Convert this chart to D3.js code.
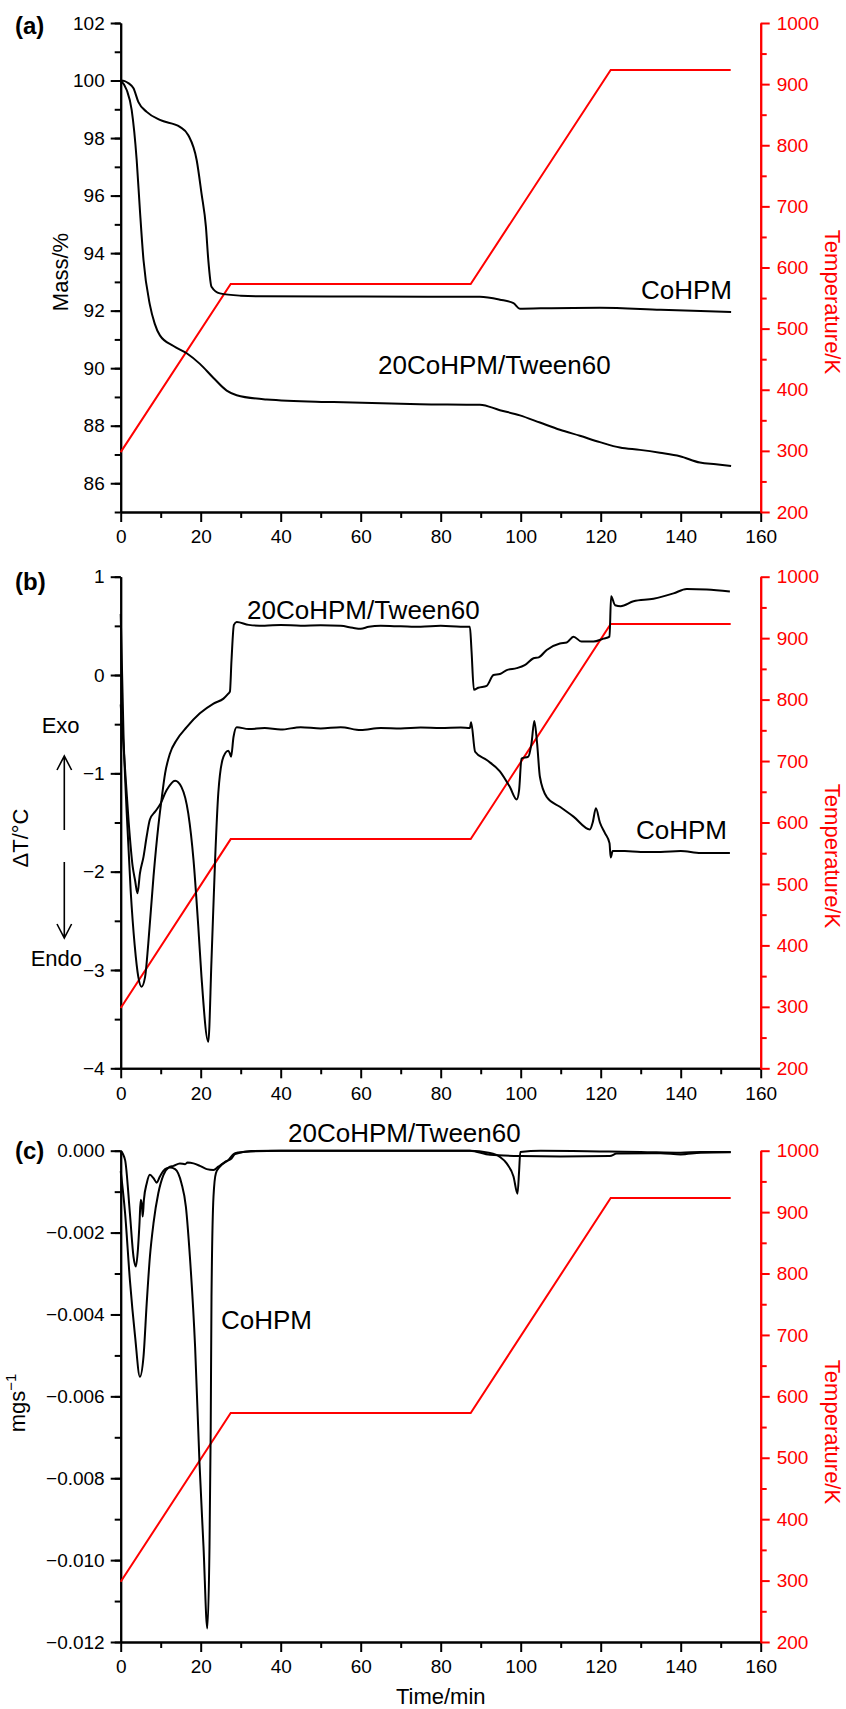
<!DOCTYPE html>
<html>
<head>
<meta charset="utf-8">
<script src="https://cdn.jsdelivr.net/npm/d3@7"></script>
<style>
  body { margin: 0; background: #fff; }
  svg { display: block; font-family: "Liberation Sans", Arial, Helvetica, sans-serif; }
</style>
</head>
<body>
<svg id="fig" width="846" height="1709"></svg>
<script>
// temperature program (min, K) shared by the three panels
const tempProgram = [[0, 298], [27.5, 573], [87.5, 573], [122.5, 923], [152.5, 923]];

// (a) TG, mass %
const tgCoHPM = [[0,100],[1,99.98],[2,99.9],[3.2,99.73],[4.4,99.26],[6.5,98.91],[9.8,98.63],[14.8,98.39],
  [16.9,98.1],[19,97.23],[20.2,96.08],[21.3,94.92],[21.9,93.76],[22.7,92.83],[24.8,92.6],[30,92.52],
  [34.8,92.5],[60,92.49],[89.8,92.48],[94.8,92.38],[98.2,92.26],[99.8,92.07],[105,92.08],[119.8,92.1],
  [135,92.03],[152.6,91.95]];
const tgTween = [[0,100],[1.5,99.67],[2.75,98.97],[4,97.23],[4.8,95.5],[5.7,93.76],[7.3,92.2],[8.5,91.55],
  [9.8,91.14],[13.2,90.77],[16.5,90.52],[19.8,90.15],[23.2,89.66],[26.5,89.22],[29,89.06],[36.5,88.91],
  [53.2,88.82],[74.8,88.75],[89.8,88.73],[94.8,88.54],[99.8,88.36],[104.8,88.11],[109.8,87.86],
  [114.8,87.65],[119.8,87.43],[124.8,87.24],[129.8,87.16],[134.8,87.06],[139.8,86.94],[144.8,86.72],
  [148.8,86.66],[152.6,86.6]];

// (b) DTA, delta T
const dtaCoHPM = [[0,-0.3],[1,-0.9],[2,-1.5],[3,-1.95],[3.6,-2.09],[4.2,-2.22],[4.8,-2.02],[5.7,-1.85],
  [6.5,-1.64],[7.3,-1.47],[8.6,-1.39],[9.8,-1.32],[11.5,-1.17],[13.6,-1.075],[15.2,-1.14],[16.9,-1.41],
  [18.2,-1.88],[19.4,-2.56],[20.2,-3.07],[21.9,-3.73],[22.7,-2.9],[23.6,-1.88],[24.4,-1.2],[25.7,-0.83],
  [26.9,-0.77],[27.3,-0.8],[27.6,-0.83],[28.2,-0.63],[29,-0.53],[32,-0.55],[36,-0.54],[40,-0.555],
  [45,-0.53],[50,-0.545],[55,-0.53],[60,-0.56],[65,-0.54],[70,-0.545],[75,-0.535],[80,-0.54],[85,-0.535],
  [87.3,-0.54],[87.6,-0.48],[88.6,-0.78],[91.5,-0.865],[94.8,-0.98],[97.3,-1.14],[99,-1.265],[99.6,-1.17],
  [100.2,-0.85],[101.9,-0.83],[102.7,-0.695],[103.4,-0.468],[104.1,-0.695],[104.8,-1.035],[106.5,-1.24],
  [109.8,-1.34],[113.2,-1.44],[117.3,-1.57],[118,-1.5],[118.8,-1.355],[119.8,-1.5],[121.1,-1.61],
  [122.2,-1.71],[122.5,-1.855],[123,-1.79],[126,-1.79],[130,-1.8],[135,-1.8],[140,-1.79],[145,-1.81],
  [152.3,-1.81]];
const dtaTween = [[0,0.62],[0.7,-0.6],[1.5,-1.4],[2.5,-2.2],[3.5,-2.75],[4.4,-3.07],[5.2,-3.17],[6.1,-3.07],
  [6.9,-2.73],[8.2,-2.05],[9.4,-1.54],[10.2,-1.27],[11.1,-1.0],[12.3,-0.8],[14,-0.66],[16.5,-0.53],
  [19.8,-0.39],[23.2,-0.29],[25.7,-0.24],[26.9,-0.19],[27.3,-0.17],[27.7,0.15],[28.3,0.51],[29,0.54],
  [32,0.51],[36,0.5],[40,0.51],[45,0.5],[50,0.505],[55,0.5],[58,0.48],[60,0.47],[62,0.49],[65,0.5],
  [70,0.495],[75,0.49],[80,0.5],[85,0.49],[87.3,0.49],[87.7,0.25],[88.3,-0.15],[89.4,-0.13],[91.5,-0.11],
  [93.2,0.0],[94.8,0.01],[96.5,0.05],[99,0.07],[101,0.1],[103.2,0.17],[104.5,0.18],[106.5,0.255],
  [109.8,0.32],[111.5,0.33],[113.2,0.39],[115.2,0.34],[118.2,0.34],[120.7,0.37],[122.2,0.39],[122.6,0.8],
  [123.6,0.71],[125,0.7],[128.2,0.75],[133.2,0.775],[138.2,0.83],[141.5,0.876],[146.5,0.87],[152.3,0.85]];

// (c) DTG, mg/s
const dtgCoHPM = [[0,0],[1.1,-0.00023],[2.3,-0.00153],[3.2,-0.00259],[3.8,-0.00283],[4.3,-0.00242],
  [4.7,-0.00177],[5.0,-0.0012],[5.3,-0.00133],[5.5,-0.00161],[5.8,-0.0012],[6.5,-0.0008],[7.3,-0.00059],
  [8.2,-0.00067],[9,-0.00078],[9.8,-0.00063],[11.1,-0.00045],[12.3,-0.00041],[13.6,-0.00045],
  [15.2,-0.0008],[16.3,-0.00137],[17.3,-0.00259],[18.6,-0.00479],[19.7,-0.00763],[20.7,-0.00967],
  [21.65,-0.01167],[22.2,-0.00967],[22.5,-0.00682],[22.7,-0.00357],[23.2,-0.00112],[23.8,-0.00055],
  [24.8,-0.00039],[26.9,-0.00023],[28.6,-0.00006],[32.6,-0.00002],[40,0],[87.3,0],[92,-0.00005],
  [94.8,-0.00015],[96.5,-0.00031],[98.2,-0.00063],[99.2,-0.00105],[99.6,-0.0005],[99.9,-0.00003],
  [105,0],[122,-0.00002],[130,-0.00003],[140,-0.00005],[145,-0.00003],[152.5,-0.00003]];
const dtgTween = [[0,-0.0005],[1.1,-0.00153],[2.3,-0.00316],[3.6,-0.00454],[4.8,-0.00552],[5.7,-0.00503],
  [6.5,-0.00373],[7.3,-0.00259],[8.2,-0.00177],[9.4,-0.00104],[10.7,-0.00059],[12,-0.00041],
  [13.2,-0.00037],[14.8,-0.00031],[16.1,-0.00033],[16.7,-0.00029],[18.2,-0.00031],[19.8,-0.00037],
  [21.5,-0.00045],[23.2,-0.00047],[24.4,-0.00039],[26.1,-0.00027],[27.7,-0.00019],[28.6,-0.00008],
  [32.6,-0.00001],[37.6,0],[87.3,0],[92.3,-0.0001],[100,-0.00013],[110,-0.00014],[122.3,-0.00013],
  [124,-0.00007],[135,-0.00006],[140,-0.00009],[145,-0.00005],[152.5,-0.00004]];

const timeTicks = d3.range(0, 161, 20);
const tempTicks = d3.range(200, 1001, 100);

const svg = d3.select("#fig");
const x = d3.scaleLinear().domain([0, 160]).range([120.7, 760.7]);
const RED = "#ff0000";

const panels = [
  { letter: "(a)", letterY: 34, top: 23, bottom: 512, domain: [85, 102], major: d3.range(86, 103, 2),
    minor: d3.range(85, 103, 1), fmt: d3.format("d"), title: "Mass/%", titleX: 68, titleY: 272,
    tempTitleY: 302, series: [tgCoHPM, tgTween],
    labels: [["CoHPM", 641, 299], ["20CoHPM/Tween60", 378, 374]] },
  { letter: "(b)", letterY: 590, top: 576.7, bottom: 1068.3, domain: [-4, 1], major: d3.range(-4, 1.01, 1),
    minor: d3.range(-4, 1.01, 0.5), fmt: d3.format("d"), title: "\u0394T/\u00b0C", titleX: 28, titleY: 838,
    tempTitleY: 856, series: [dtaCoHPM, dtaTween],
    labels: [["20CoHPM/Tween60", 247, 619], ["CoHPM", 636, 839]] },
  { letter: "(c)", letterY: 1159, top: 1150.7, bottom: 1642, domain: [-0.012, 0], major: d3.range(-0.012, 0.0001, 0.002),
    minor: d3.range(-0.012, 0.0001, 0.001), fmt: d3.format(".3f"), title: null, titleX: 25, titleY: 1403,
    tempTitleY: 1432, series: [dtgCoHPM, dtgTween],
    labels: [["20CoHPM/Tween60", 288, 1142], ["CoHPM", 221, 1329]] }
];

function styleAxis(g, color, width) {
  g.select(".domain").attr("stroke", color).attr("stroke-width", width);
  g.selectAll(".tick line").attr("stroke", color).attr("stroke-width", width);
  g.selectAll(".tick text").attr("fill", color).attr("font-size", 19)
    .attr("font-family", "'Liberation Sans', Arial, Helvetica, sans-serif");
}

panels.forEach(p => {
  const y = d3.scaleLinear().domain(p.domain).range([p.bottom, p.top]);
  const yT = d3.scaleLinear().domain([200, 1000]).range([p.bottom, p.top]);
  const g = svg.append("g");

  // minor ticks first, then major axes
  g.append("g").attr("transform", `translate(${x.range()[0]},0)`)
    .call(d3.axisLeft(y).tickValues(p.minor).tickSize(6).tickSizeOuter(0).tickFormat(""))
    .call(a => styleAxis(a, "#000", 2));
  g.append("g").attr("transform", `translate(${x.range()[0]},0)`)
    .call(d3.axisLeft(y).tickValues(p.major).tickSize(10).tickSizeOuter(0).tickPadding(6).tickFormat(p.fmt))
    .call(a => styleAxis(a, "#000", 2));

  g.append("g").attr("transform", `translate(0,${p.bottom})`)
    .call(d3.axisBottom(x).tickValues(d3.range(10, 161, 20)).tickSize(6).tickSizeOuter(0).tickFormat(""))
    .call(a => styleAxis(a, "#000", 2));
  g.append("g").attr("transform", `translate(0,${p.bottom})`)
    .call(d3.axisBottom(x).tickValues(timeTicks).tickSize(10).tickSizeOuter(0).tickPadding(8).tickFormat(d3.format("d")))
    .call(a => styleAxis(a, "#000", 2));

  g.append("g").attr("transform", `translate(${x.range()[1]},0)`)
    .call(d3.axisRight(yT).tickValues(d3.range(250, 1000, 100)).tickSize(6).tickSizeOuter(0).tickFormat(""))
    .call(a => styleAxis(a, RED, 2));
  g.append("g").attr("transform", `translate(${x.range()[1]},0)`)
    .call(d3.axisRight(yT).tickValues(tempTicks).tickSize(9).tickSizeOuter(0).tickPadding(7).tickFormat(d3.format("d")))
    .call(a => styleAxis(a, RED, 2));

  // temperature program
  g.append("path").datum(tempProgram)
    .attr("fill", "none").attr("stroke", RED).attr("stroke-width", 2)
    .attr("d", d3.line().x(d => x(d[0])).y(d => yT(d[1])));

  const line = d3.line().curve(d3.curveMonotoneX).x(d => x(d[0])).y(d => y(d[1]));
  p.series.forEach(s => {
    g.append("path").datum(s)
      .attr("fill", "none").attr("stroke", "#000").attr("stroke-width", 2)
      .attr("stroke-linejoin", "round").attr("d", line);
  });

  p.labels.forEach(([t, lx, ly]) => {
    g.append("text").attr("x", lx).attr("y", ly).attr("font-size", 26).text(t);
  });

  g.append("text").attr("x", 15).attr("y", p.letterY)
    .attr("font-size", 24).attr("font-weight", "bold").text(p.letter);

  if (p.title) {
    g.append("text").attr("transform", `translate(${p.titleX},${p.titleY}) rotate(-90)`)
      .attr("text-anchor", "middle").attr("font-size", 22).text(p.title);
  } else {
    const t = g.append("text").attr("transform", `translate(${p.titleX},${p.titleY}) rotate(-90)`)
      .attr("text-anchor", "middle").attr("font-size", 22);
    t.append("tspan").text("mgs");
    t.append("tspan").attr("dy", -9).attr("font-size", 15).text("\u22121");
  }

  g.append("text").attr("transform", `translate(825,${p.tempTitleY}) rotate(90)`)
    .attr("text-anchor", "middle").attr("font-size", 22).attr("fill", RED).text("Temperature/K");
});

// Exo / Endo arrows on panel (b)
const ann = svg.append("g").attr("stroke", "#000").attr("stroke-width", 1.6).attr("fill", "none");
ann.append("path").attr("d", "M64.3,830 L64.3,756 M57,770 L64.3,756 L71.6,770");
ann.append("path").attr("d", "M64.3,862 L64.3,938 M57,924 L64.3,938 L71.6,924");
svg.append("text").attr("x", 41.7).attr("y", 733).attr("font-size", 22).text("Exo");
svg.append("text").attr("x", 30.7).attr("y", 966).attr("font-size", 22).text("Endo");

svg.append("text").attr("x", x(80)).attr("y", 1704).attr("text-anchor", "middle")
  .attr("font-size", 22).text("Time/min");
</script>
</body>
</html>
